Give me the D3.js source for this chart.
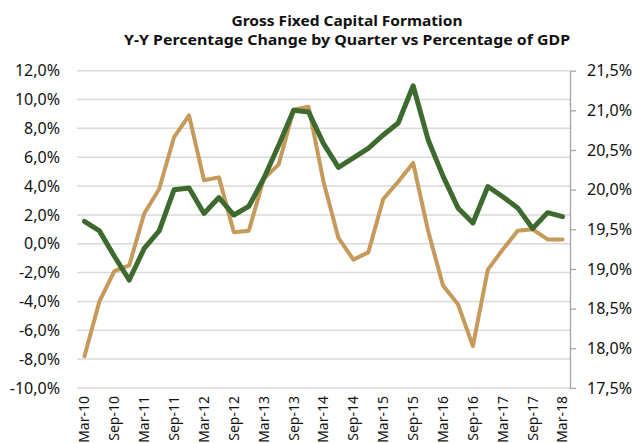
<!DOCTYPE html>
<html>
<head>
<meta charset="utf-8">
<script src="https://cdn.jsdelivr.net/npm/d3@7"></script>
<style>
  html, body { margin: 0; padding: 0; background: #fff; }
  svg { display: block; font-family: "Noto Sans", sans-serif; }
</style>
</head>
<body>
<svg id="chart" width="634" height="443"></svg>
<script>
// ---- Data ----
const categories = [
  "Mar-10","Jun-10","Sep-10","Dec-10",
  "Mar-11","Jun-11","Sep-11","Dec-11",
  "Mar-12","Jun-12","Sep-12","Dec-12",
  "Mar-13","Jun-13","Sep-13","Dec-13",
  "Mar-14","Jun-14","Sep-14","Dec-14",
  "Mar-15","Jun-15","Sep-15","Dec-15",
  "Mar-16","Jun-16","Sep-16","Dec-16",
  "Mar-17","Jun-17","Sep-17","Dec-17",
  "Mar-18"
];
// Y-Y percentage change (left axis)
const yoyChange = [-7.8,-4.0,-1.9,-1.5, 2.1,3.8,7.4,8.9, 4.4,4.6,0.8,0.9,
                   4.5,5.5,9.3,9.5, 4.3,0.4,-1.1,-0.6, 3.1,4.3,5.6,0.9,
                   -2.9,-4.2,-7.1,-1.8, -0.4,0.9,1.0,0.3, 0.3];
// Percentage of GDP (right axis)
const pctGDP = [19.60,19.48,19.16,18.86, 19.26,19.48,20.00,20.02,
                19.70,19.90,19.68,19.79, 20.14,20.56,21.00,20.98,
                20.58,20.28,20.40,20.52, 20.69,20.84,21.31,20.63,
                20.17,19.77,19.58,20.04, 19.91,19.77,19.51,19.71, 19.66];
const leftTicks = [-10,-8,-6,-4,-2,0,2,4,6,8,10,12];
const rightTicks = [17.5,18.0,18.5,19.0,19.5,20.0,20.5,21.0,21.5];
const xLabels = categories.filter((d, i) => i % 2 === 0);
const titleLines = ["Gross Fixed Capital Formation",
                    "Y-Y Percentage Change by Quarter vs Percentage of GDP"];

// ---- Layout ----
const plot = { left: 77, right: 570, top: 70.7, bottom: 387.9 };
const svg = d3.select("#chart");

const locale = d3.formatLocale({ decimal: ",", thousands: ".", grouping: [3], currency: ["", ""], minus: "-" });
const fmt = v => locale.format(".1f")(v) + "%";

const x = d3.scaleBand().domain(categories).range([plot.left, plot.right]);
const xc = d => x(d) + x.bandwidth() / 2;
const yL = d3.scaleLinear().domain([-10, 12]).range([plot.bottom, plot.top]);
const yR = d3.scaleLinear().domain([17.5, 21.5]).range([plot.bottom, plot.top]);

// Title
const titleWidths = [231, 446];
svg.append("g").selectAll("text").data(titleLines).join("text")
  .attr("x", 347)
  .attr("y", (d, i) => i === 0 ? 25.5 : 45)
  .attr("text-anchor", "middle")
  .attr("font-weight", "bold")
  .attr("font-size", 14.5)
  .attr("fill", "#111")
  .attr("textLength", (d, i) => titleWidths[i])
  .attr("lengthAdjust", "spacingAndGlyphs")
  .text(d => d);

// Gridlines
svg.append("g").selectAll("line").data(leftTicks).join("line")
  .attr("x1", plot.left).attr("x2", plot.right)
  .attr("y1", d => yL(d)).attr("y2", d => yL(d))
  .attr("stroke", "#d9d9d9").attr("stroke-width", 1.5);

// Left axis labels
const leftAxis = d3.axisLeft(yL).tickValues(leftTicks).tickFormat(fmt).tickSize(0).tickPadding(17);
const gL = svg.append("g").attr("transform", `translate(${plot.left},0)`).call(leftAxis);
gL.select(".domain").remove();
gL.selectAll("text").attr("font-size", 16).attr("fill", "#111").attr("font-family", "Noto Sans");

// Right axis
const rightAxis = d3.axisRight(yR).tickValues(rightTicks).tickFormat(fmt).tickSize(6).tickSizeOuter(0).tickPadding(11);
const gR = svg.append("g").attr("transform", `translate(${plot.right},0)`).call(rightAxis);
gR.select(".domain").attr("stroke", "#a6a6a6").attr("stroke-width", 1.3);
gR.selectAll(".tick line").attr("stroke", "#a6a6a6").attr("stroke-width", 1.3);
gR.selectAll("text").attr("font-size", 16).attr("fill", "#111").attr("font-family", "Noto Sans");

// X labels
svg.append("g").selectAll("text").data(xLabels).join("text")
  .attr("transform", d => `translate(${xc(d)},396) rotate(-90)`)
  .attr("dy", "0.35em")
  .attr("text-anchor", "end")
  .attr("font-size", 14)
  .attr("fill", "#111")
  .text(d => d);

// Lines
const lineL = d3.line().x((d, i) => xc(categories[i])).y(d => yL(d));
const lineR = d3.line().x((d, i) => xc(categories[i])).y(d => yR(d));

svg.append("path").datum(yoyChange)
  .attr("d", lineL)
  .attr("fill", "none")
  .attr("stroke", "#c69a5b")
  .attr("stroke-width", 4)
  .attr("stroke-linejoin", "round")
  .attr("stroke-linecap", "round");

svg.append("path").datum(pctGDP)
  .attr("d", lineR)
  .attr("fill", "none")
  .attr("stroke", "#3e6a2f")
  .attr("stroke-width", 5)
  .attr("stroke-linejoin", "round")
  .attr("stroke-linecap", "round");
</script>
</body>
</html>
